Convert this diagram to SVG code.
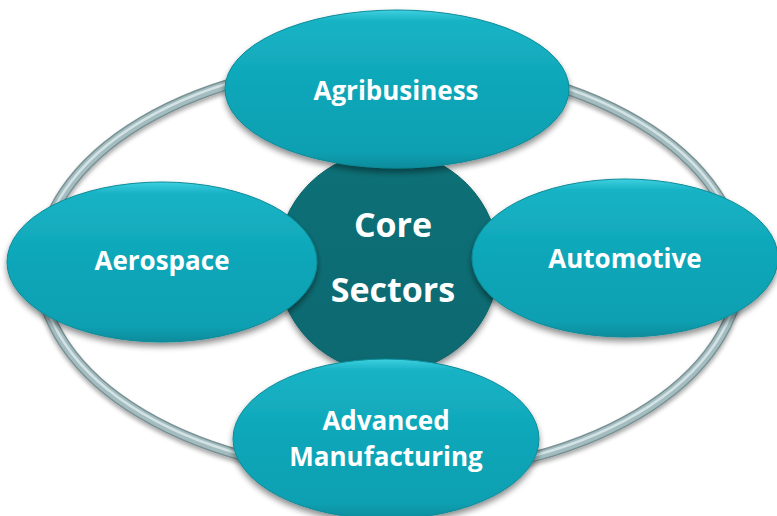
<svg xmlns="http://www.w3.org/2000/svg" width="777" height="516" viewBox="0 0 777 516">
<defs>
<linearGradient id="tealGrad" x1="0" y1="0" x2="0" y2="1">
<stop offset="0" stop-color="#3fd0e0"/>
<stop offset="0.07" stop-color="#17b3c5"/>
<stop offset="0.5" stop-color="#0ea6b8"/>
<stop offset="0.9" stop-color="#0ba0b2"/>
<stop offset="1" stop-color="#0a8c9c"/>
</linearGradient>
<linearGradient id="coreGrad" x1="0" y1="0" x2="0" y2="1">
<stop offset="0" stop-color="#0c7c83"/>
<stop offset="0.1" stop-color="#0a6f76"/>
<stop offset="1" stop-color="#096a71"/>
</linearGradient>
<filter id="shadow" x="-20%" y="-20%" width="140%" height="150%">
<feGaussianBlur in="SourceAlpha" stdDeviation="3"/>
<feOffset dx="0" dy="4" result="b"/>
<feComponentTransfer><feFuncA type="linear" slope="0.45"/></feComponentTransfer>
<feMerge><feMergeNode/><feMergeNode in="SourceGraphic"/></feMerge>
</filter>
<filter id="ringShadow" x="-10%" y="-10%" width="120%" height="125%">
<feGaussianBlur in="SourceAlpha" stdDeviation="2"/>
<feOffset dx="0" dy="3"/>
<feComponentTransfer><feFuncA type="linear" slope="0.35"/></feComponentTransfer>
<feMerge><feMergeNode/><feMergeNode in="SourceGraphic"/></feMerge>
</filter>
</defs>
<style>
.node{fill:url(#tealGrad);stroke:#0b8a98;stroke-width:1;filter:url(#shadow)}
.core{fill:url(#coreGrad);stroke:#095f66;stroke-width:1;filter:url(#shadow)}
.lbl{font-family:"Open Sans","Noto Sans","DejaVu Sans",sans-serif;font-weight:bold;fill:#ffffff;text-anchor:middle}
.ringOuter{fill:none;stroke:#7a9194;stroke-width:11}
.ringMid{fill:none;stroke:#a3bcbf;stroke-width:8}
.ringHi{fill:none;stroke:#d3e2e4;stroke-width:2.5}
</style>
<g id="connectors" filter="url(#ringShadow)">
<ellipse class="ringOuter" cx="390" cy="268" rx="350" ry="207"/>
<ellipse class="ringMid" cx="390" cy="268" rx="350" ry="207"/>
<ellipse class="ringHi" cx="390" cy="267" rx="350" ry="207"/>
</g>
<g id="core">
<circle class="core" cx="388" cy="262" r="111"/>
<text class="lbl" x="393" y="237" font-size="34">Core</text>
<text class="lbl" x="393" y="302" font-size="34">Sectors</text>
</g>
<g id="agribusiness">
<ellipse class="node" cx="397" cy="89" rx="172" ry="79"/>
<text class="lbl" x="396" y="100" font-size="26">Agribusiness</text>
</g>
<g id="aerospace">
<ellipse class="node" cx="162" cy="262" rx="155" ry="80"/>
<text class="lbl" x="162" y="270" font-size="26">Aerospace</text>
</g>
<g id="automotive">
<ellipse class="node" cx="625" cy="258" rx="153" ry="79"/>
<text class="lbl" x="625" y="268" font-size="26">Automotive</text>
</g>
<g id="advanced-manufacturing">
<ellipse class="node" cx="386" cy="439" rx="153" ry="80"/>
<text class="lbl" x="386" y="430" font-size="26">Advanced</text>
<text class="lbl" x="386" y="466" font-size="26">Manufacturing</text>
</g>
</svg>
